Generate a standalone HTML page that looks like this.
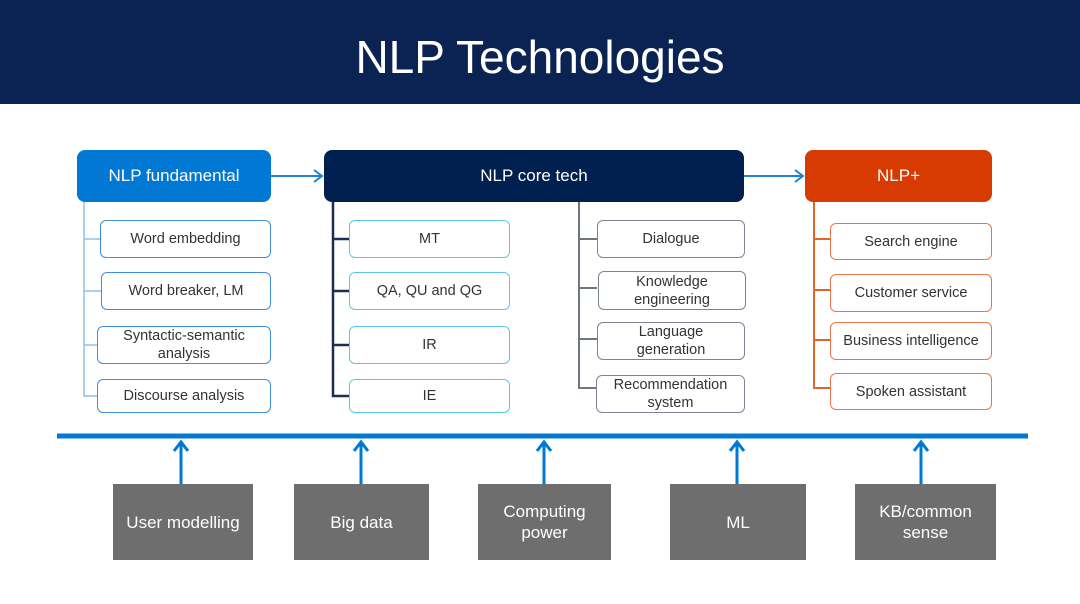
<!DOCTYPE html>
<html><head><meta charset="utf-8"><style>
*{margin:0;padding:0;box-sizing:border-box}
body{width:1080px;height:604px;background:#fff;position:relative;overflow:hidden;font-family:"Liberation Sans",sans-serif}
.a{position:absolute;display:flex;align-items:center;justify-content:center;text-align:center}
.h{color:#fff;font-size:17px;border-radius:8px}
.s{background:#fff;border:1.5px solid;border-radius:6px;font-size:14.5px;color:#333;line-height:18px}
.f{border-color:#3f8fd8}.c{border-color:#5cc6ea}.g{border-color:#7d8590}.o{border-color:#e8764a}
.b{background:#6e6e6e;color:#fff;font-size:17px;line-height:21px}
.l{position:absolute}
</style></head><body>
<div class="a" style="left:0;top:0;width:1080px;height:104px;background:#0b2352;color:#fff;font-size:46px;padding-top:10px">NLP Technologies</div>

<div class="a h" style="left:77px;top:150px;width:194px;height:52px;background:#0078d4">NLP fundamental</div>
<div class="a h" style="left:324px;top:150px;width:420px;height:52px;background:#002050">NLP core tech</div>
<div class="a h" style="left:805px;top:150px;width:187px;height:52px;background:#d83b01">NLP+</div>

<svg class="l" style="left:0;top:0" width="1080" height="604">
<g stroke="#1e82d6" stroke-width="2" fill="none">
<line x1="271" y1="176" x2="322" y2="176"/><polyline points="314,170 322,176 314,182"/>
<line x1="744" y1="176" x2="803" y2="176"/><polyline points="795,170 803,176 795,182"/>
</g>
<g stroke="#8fc0ea" stroke-width="1.5" fill="none">
<polyline points="84,202 84,396 97,396"/>
<line x1="84" y1="239" x2="100" y2="239"/><line x1="84" y1="291" x2="101" y2="291"/><line x1="84" y1="345" x2="97" y2="345"/>
</g>
<g stroke="#1f2d55" stroke-width="2.5" fill="none">
<polyline points="333,202 333,396 349,396"/>
<line x1="333" y1="239" x2="349" y2="239"/><line x1="333" y1="291" x2="349" y2="291"/><line x1="333" y1="345" x2="349" y2="345"/>
</g>
<g stroke="#707680" stroke-width="2" fill="none">
<polyline points="579,202 579,388 597,388"/>
<line x1="579" y1="239" x2="597" y2="239"/><line x1="579" y1="288" x2="597" y2="288"/><line x1="579" y1="339" x2="597" y2="339"/>
</g>
<g stroke="#e0652e" stroke-width="2" fill="none">
<polyline points="814,202 814,388 830,388"/>
<line x1="814" y1="239" x2="830" y2="239"/><line x1="814" y1="290" x2="830" y2="290"/><line x1="814" y1="340" x2="830" y2="340"/>
</g>
<line x1="57" y1="436" x2="1028" y2="436" stroke="#0078d4" stroke-width="5"/>
<g stroke="#0078d4" stroke-width="3" fill="none">
<line x1="181" y1="484" x2="181" y2="442"/><polyline points="174,451 181,442 188,451"/>
<line x1="361" y1="484" x2="361" y2="442"/><polyline points="354,451 361,442 368,451"/>
<line x1="544" y1="484" x2="544" y2="442"/><polyline points="537,451 544,442 551,451"/>
<line x1="737" y1="484" x2="737" y2="442"/><polyline points="730,451 737,442 744,451"/>
<line x1="921" y1="484" x2="921" y2="442"/><polyline points="914,451 921,442 928,451"/>
</g>
</svg>

<div class="a s f" style="left:100px;top:220px;width:171px;height:38px">Word embedding</div>
<div class="a s f" style="left:101px;top:272px;width:170px;height:38px">Word breaker, LM</div>
<div class="a s f" style="left:97px;top:326px;width:174px;height:38px">Syntactic-semantic<br>analysis</div>
<div class="a s f" style="left:97px;top:379px;width:174px;height:34px">Discourse analysis</div>

<div class="a s c" style="left:349px;top:220px;width:161px;height:38px">MT</div>
<div class="a s c" style="left:349px;top:272px;width:161px;height:38px">QA, QU and QG</div>
<div class="a s c" style="left:349px;top:326px;width:161px;height:38px">IR</div>
<div class="a s c" style="left:349px;top:379px;width:161px;height:34px">IE</div>

<div class="a s g" style="left:597px;top:220px;width:148px;height:38px">Dialogue</div>
<div class="a s g" style="left:598px;top:271px;width:148px;height:39px">Knowledge<br>engineering</div>
<div class="a s g" style="left:597px;top:322px;width:148px;height:38px">Language<br>generation</div>
<div class="a s g" style="left:596px;top:375px;width:149px;height:38px">Recommendation<br>system</div>

<div class="a s o" style="left:830px;top:223px;width:162px;height:37px">Search engine</div>
<div class="a s o" style="left:830px;top:274px;width:162px;height:38px">Customer service</div>
<div class="a s o" style="left:830px;top:322px;width:162px;height:38px">Business intelligence</div>
<div class="a s o" style="left:830px;top:373px;width:162px;height:37px">Spoken assistant</div>

<div class="a b" style="left:113px;top:484px;width:140px;height:76px">User modelling</div>
<div class="a b" style="left:294px;top:484px;width:135px;height:76px">Big data</div>
<div class="a b" style="left:478px;top:484px;width:133px;height:76px">Computing<br>power</div>
<div class="a b" style="left:670px;top:484px;width:136px;height:76px">ML</div>
<div class="a b" style="left:855px;top:484px;width:141px;height:76px">KB/common<br>sense</div>
</body></html>
